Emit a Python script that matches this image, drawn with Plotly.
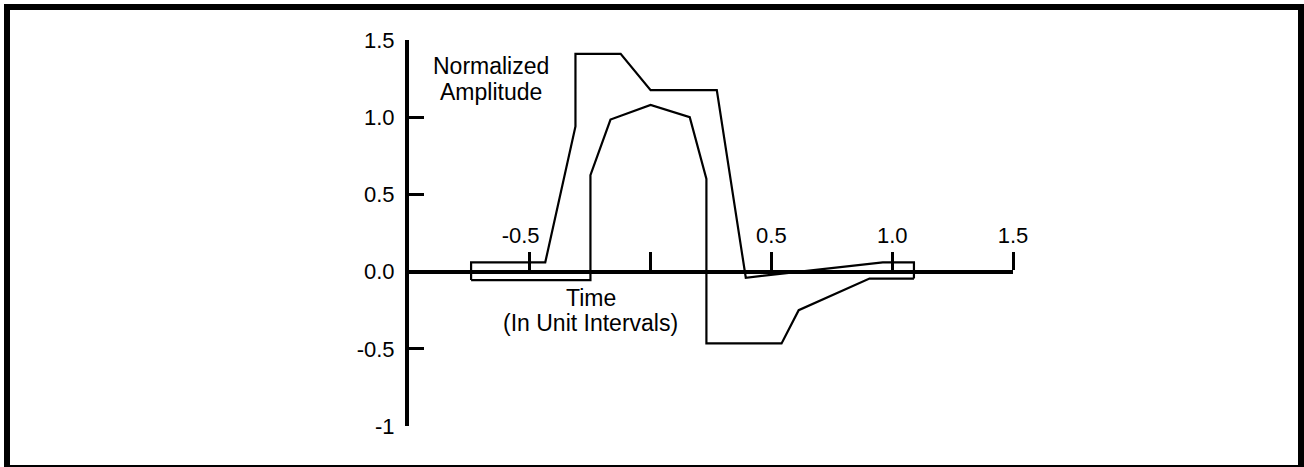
import plotly.graph_objects as go

# Waveform data (time in unit intervals, normalized amplitude)
upper_t = [-0.743, -0.743, -0.436, -0.311, -0.311, -0.124, 0.0, 0.274, 0.394, 0.961, 1.09, 1.09]
upper_a = [-0.055, 0.06, 0.06, 0.94, 1.41, 1.41, 1.175, 1.175, -0.04, 0.06, 0.06, -0.045]

lower_t = [-0.743, -0.249, -0.249, -0.166, 0.0, 0.162, 0.231, 0.231, 0.542, 0.613, 0.906, 1.09]
lower_a = [-0.055, -0.055, 0.625, 0.985, 1.08, 1.0, 0.6, -0.465, -0.465, -0.25, -0.045, -0.045]

x_tickvals = [-0.5, 0, 0.5, 1.0, 1.5]
x_ticktext = ["-0.5\u00a0\u00a0\u00a0", "", "0.5", "1.0", "1.5"]
y_tickvals = [1.5, 1.0, 0.5, 0.0, -0.5, -1.0]
y_ticktext = ["1.5", "1.0", "0.5", "0.0", "-0.5", "-1"]

FONT = "Liberation Sans, Arial, sans-serif"
TICK_SIZE = 22
TEXT_SIZE = 23

fig = go.Figure()
fig.add_trace(go.Scatter(x=upper_t, y=upper_a, mode="lines",
                         line=dict(color="black", width=2.2), showlegend=False))
fig.add_trace(go.Scatter(x=lower_t, y=lower_a, mode="lines",
                         line=dict(color="black", width=2.2), showlegend=False))

L, R, T, B = 409, 291, 40, 41
W, H = 1304, 467
pw = W - L - R
ph = H - T - B


def ann(text, x, y):
    return dict(x=x, y=y, xref="x", yref="y", text=text, showarrow=False,
                xanchor="center", yanchor="middle",
                font=dict(size=TEXT_SIZE, family=FONT, color="black"))


fig.update_layout(
    width=W, height=H,
    margin=dict(l=L, r=R, t=T, b=B, pad=0),
    paper_bgcolor="white", plot_bgcolor="white",
    font=dict(family=FONT, size=TICK_SIZE, color="black"),
    xaxis=dict(range=[-1, 1.5], domain=[0, 1], anchor="free", position=0.4,
               side="top", showline=True, linewidth=4, linecolor="black",
               ticks="outside", ticklen=18, tickwidth=3, tickcolor="black",
               tickvals=x_tickvals, ticktext=x_ticktext,
               showgrid=False, zeroline=False, fixedrange=True),
    yaxis=dict(range=[-1, 1.5], domain=[0, 1], showline=True, linewidth=4,
               linecolor="black", ticks="inside", ticklen=15, tickwidth=3,
               tickcolor="black", tickvals=y_tickvals, ticktext=y_ticktext,
               ticklabelstandoff=6,
               showgrid=False, zeroline=False, fixedrange=True),
    annotations=[
        ann("Normalized", -0.66, 1.33),
        ann("Amplitude", -0.66, 1.163),
        ann("Time", -0.245, -0.17),
        ann("(In Unit Intervals)", -0.249, -0.335),
    ],
    shapes=[
        dict(type="rect", xref="paper", yref="paper",
             x0=(7 - L) / pw, x1=(1301 - L) / pw,
             y0=(H - B - 468) / ph, y1=(H - B - 7) / ph,
             line=dict(color="black", width=6), fillcolor="rgba(0,0,0,0)"),
    ],
)

fig.write_html("out.html", config={"displayModeBar": False, "staticPlot": True},
               post_script="document.body.style.margin='0';document.body.style.overflow='hidden';")
